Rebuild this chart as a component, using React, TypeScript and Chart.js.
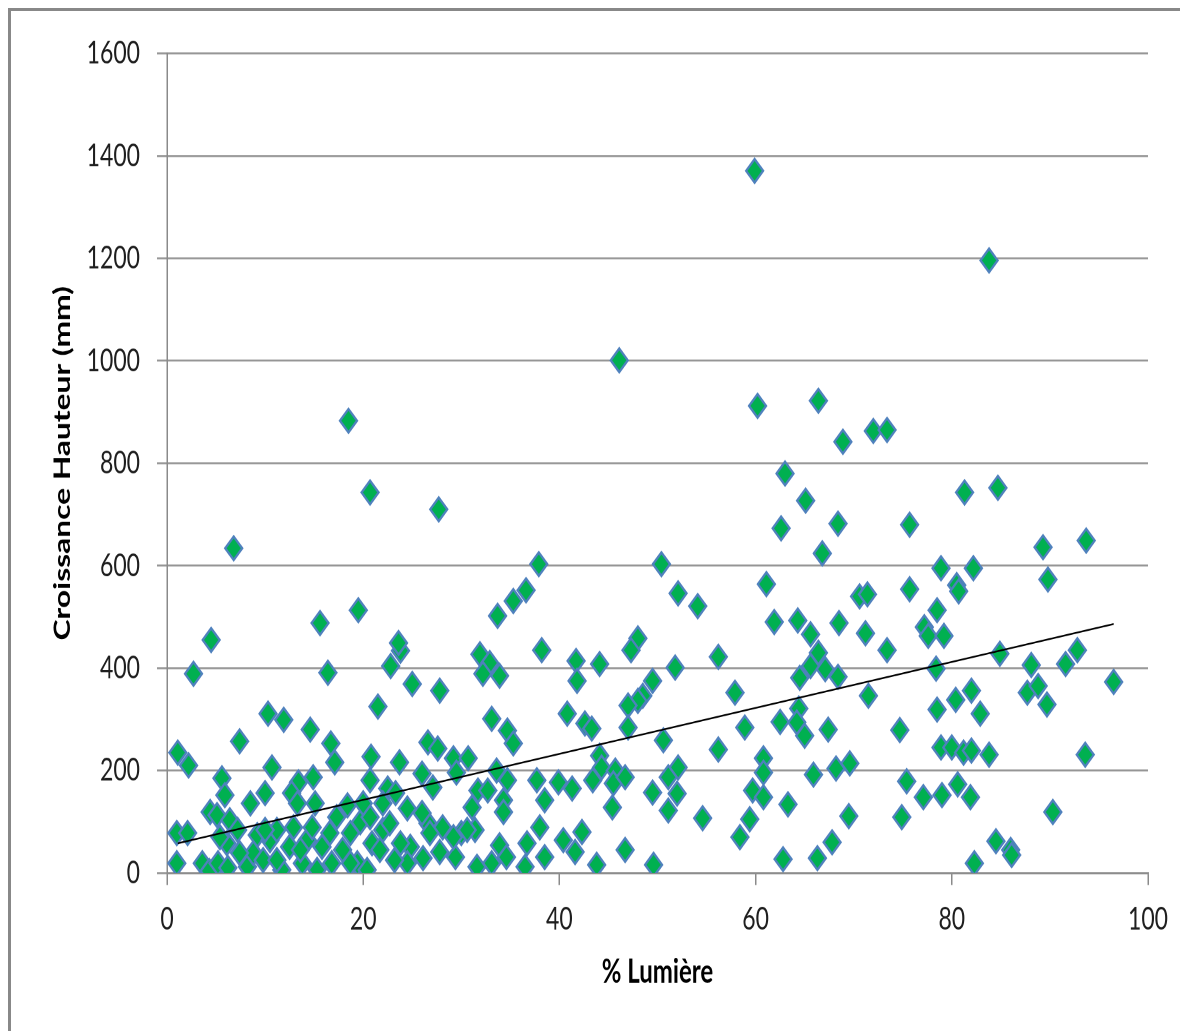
import React, { useEffect, useRef } from 'react';
import { Chart, registerables } from 'chart.js';

Chart.register(...registerables);

// ---- data ----
const lightPct = [
  59.9, 83.8, 46.1, 60.2, 66.4, 18.5, 20.7, 6.8, 15.6, 19.5, 4.5, 27.7, 37.9, 36.6, 35.3, 33.7, 48.0, 50.4, 38.2,
  68.9, 72.0, 73.4, 63.0, 65.1, 62.6, 68.4, 66.8, 75.7, 52.1, 54.1, 61.1, 61.9, 64.3, 68.5, 70.6, 71.4, 75.7, 65.6, 71.2,
  81.3, 84.7, 89.3, 93.7, 89.8, 78.9, 82.2, 80.5, 80.7, 78.5, 77.2, 77.6, 79.2, 84.9, 88.1, 91.6, 92.8, 96.5, 78.4,
  82.0, 80.4, 78.5, 82.9, 87.7, 88.8, 89.7, 74.7, 78.9, 80.0, 81.2, 82.0, 83.8, 93.6, 75.4, 77.1, 79.0, 80.6, 81.9,
  74.9, 90.3, 84.5, 86.0, 86.1, 82.3,
  56.2, 51.8, 49.5, 57.9, 58.9, 56.2, 50.6, 52.1, 51.1, 52.0, 49.5, 51.1, 54.6, 49.6, 62.5, 64.4, 64.2, 65.0, 67.4,
  71.5, 64.5, 65.6, 66.4, 67.1, 68.4, 73.4, 60.8, 60.8, 59.7, 60.8, 59.4, 58.4, 63.3, 65.9, 68.2, 69.6, 69.5, 67.8,
  66.3, 62.8,
  31.9, 32.9, 32.2, 33.9, 41.7, 41.8, 44.1, 47.3, 48.5, 48.0, 47.0, 47.0, 25.0, 27.8, 40.8, 42.6, 43.3, 33.1, 34.7,
  35.3, 26.6, 27.6, 29.2, 30.7, 29.5, 26.0, 27.1, 24.5, 23.7, 31.7, 32.7, 33.6, 34.7, 34.3, 34.3, 31.1, 37.7, 38.5,
  39.9, 41.3, 43.4, 44.1, 44.3, 45.7, 45.5, 46.7, 45.4, 38.0, 26.6, 36.7, 38.5, 36.5, 40.4, 41.6, 42.3, 43.8, 46.7,
  33.9, 34.6, 33.1, 31.6, 31.4, 30.0, 29.4, 28.1, 26.8, 27.8, 26.1, 24.8, 24.5, 29.2, 26.0, 30.6,
  2.7, 16.4, 22.8, 23.8, 23.6, 21.5, 10.3, 11.9, 14.6, 16.7, 17.1, 7.4, 1.1, 2.2, 10.7, 14.9, 20.8, 20.7, 22.5, 23.3,
  5.6, 5.9, 10.0, 8.5, 13.4, 12.7, 13.3, 4.4, 5.1, 6.4, 1.0, 2.1, 1.0, 3.6, 4.3, 5.2, 6.2, 6.1, 7.2, 8.2, 9.2, 8.8,
  9.8, 10.5, 11.2, 11.7, 12.5, 12.9, 13.8, 14.3, 14.8, 15.3, 15.8, 16.6, 16.8, 17.3, 17.9, 18.7, 19.4, 19.7, 20.7,
  20.9, 21.7, 22.0, 22.7, 23.2, 23.8, 11.2, 7.4, 5.4, 13.6, 18.7, 20.4, 15.1, 10.0, 18.4, 20.0, 22.0,
];

const growthMm = [
  1371, 1196, 1001, 912, 922, 883, 743, 634, 488, 513, 455, 710, 603, 552, 531, 502, 458, 603, 435,
  842, 863, 865, 780, 727, 673, 682, 624, 680, 546, 521, 564, 490, 493, 488, 540, 544, 554, 466, 468,
  743, 752, 636, 649, 573, 595, 595, 562, 550, 513, 480, 463, 463, 428, 406, 408, 435, 373, 399,
  356, 338, 319, 311, 352, 365, 329, 279, 245, 245, 235, 239, 231, 231, 179, 148, 152, 173, 148,
  109, 119, 62, 45, 35, 19,
  422, 401, 375, 352, 284, 241, 259, 206, 187, 155, 157, 122, 107, 16, 295, 321, 294, 268, 280,
  346, 381, 404, 430, 398, 383, 435, 224, 196, 161, 148, 105, 70, 134, 192, 204, 214, 111, 60,
  29, 27,
  427, 410, 389, 385, 414, 375, 408, 435, 346, 336, 327, 284, 369, 356, 311, 292, 282, 301, 278,
  253, 255, 243, 224, 224, 196, 194, 167, 126, 216, 161, 161, 200, 181, 142, 119, 128, 181, 142,
  177, 165, 181, 229, 206, 200, 175, 187, 128, 89, 97, 58, 31, 12, 64, 41, 80, 16, 45,
  54, 31, 19, 12, 84, 78, 31, 89, 78, 41, 29, 51, 19, 70, 117, 84,
  389, 391, 404, 434, 449, 325, 311, 299, 280, 253, 216, 257, 235, 210, 206, 187, 227, 181, 165, 156,
  185, 152, 156, 136, 177, 156, 136, 119, 113, 103, 78, 78, 19, 19, 4, 19, 10, 58, 84, 12, 74, 39,
  25, 64, 84, 6, 51, 89, 19, 64, 89, 6, 51, 78, 19, 109, 45, 78, 19, 99, 109,
  58, 45, 84, 97, 25, 58, 25, 39, 70, 45, 19, 6, 136, 84, 132, 136, 136,
];

// linear trend line end points (as drawn in the reference)
const trendX = [1.1, 96.5];
const trendY = [58, 486];

const xTickValues = [0, 20, 40, 60, 80, 100];
const yTickValues = [0, 200, 400, 600, 800, 1000, 1200, 1400, 1600];

const xTitle = '% Lumière';
const yTitle = 'Croissance Hauteur (mm)';

// ---- layout ----
const INNER_W = 1172;
const INNER_H = 1020;
const CANVAS_H = 739;
const STRETCH = INNER_H / CANVAS_H;

export default function App() {
  const ref = useRef<HTMLCanvasElement>(null);

  useEffect(() => {
    if (!ref.current) return;
    const gridColor = '#959595';
    const axisColor = '#8a8a8a';
    const chart = new Chart(ref.current, {
      type: 'scatter',
      data: {
        datasets: [
          {
            type: 'line',
            label: 'Tendance',
            data: trendX.map((x, i) => ({ x, y: trendY[i] })),
            borderColor: '#000000',
            borderWidth: 1.3,
            pointRadius: 0,
            fill: false,
            order: 0,
          } as any,
          {
            label: 'Croissance',
            data: lightPct.map((x, i) => ({ x, y: growthMm[i] })),
            pointStyle: 'rectRot',
            pointRadius: 8.5,
            backgroundColor: '#00B050',
            borderColor: '#4F81BD',
            borderWidth: 2,
            order: 1,
          },
        ],
      },
      options: {
        responsive: false,
        animation: false,
        devicePixelRatio: 2,
        layout: { padding: { top: 28.3, left: 0, right: 35, bottom: 0 } },
        plugins: { legend: { display: false }, tooltip: { enabled: false } },
        scales: {
          x: {
            type: 'linear',
            min: 0,
            max: 100,
            afterBuildTicks: (s: any) => {
              s.ticks = xTickValues.map((v) => ({ value: v }));
            },
            afterFit: (s: any) => {
              s.height = CANVAS_H - 624.5;
            },
            grid: {
              display: true,
              drawOnChartArea: false,
              drawTicks: true,
              tickLength: 8.7,
              color: axisColor,
              lineWidth: 1.5,
            },
            border: { display: true, color: axisColor, width: 1.4 },
            ticks: {
              padding: 11,
              color: '#1e1e1e',
              font: { family: 'Lato', size: 23 },
              maxRotation: 0,
              callback: (v: any) => String(v),
            },
            title: {
              display: true,
              text: xTitle,
              color: '#000000',
              font: { family: 'Lato', size: 24, weight: 'bold' },
              padding: { top: 0, bottom: 28.3 },
            },
          },
          y: {
            type: 'linear',
            min: 0,
            max: 1600,
            afterBuildTicks: (s: any) => {
              s.ticks = yTickValues.map((v) => ({ value: v }));
            },
            afterFit: (s: any) => {
              s.width = 156;
            },
            grid: {
              display: true,
              drawTicks: true,
              tickLength: 10,
              color: gridColor,
              lineWidth: 1.4,
            },
            border: { display: true, color: axisColor, width: 1.5 },
            ticks: {
              padding: 17,
              color: '#1e1e1e',
              font: { family: 'Lato', size: 23 },
              callback: (v: any) => String(v),
            },
            title: {
              display: true,
              text: yTitle,
              color: '#000000',
              font: { family: 'Lato', size: 23, weight: 'bold' },
              padding: { top: 37.7, bottom: 0 },
            },
          },
        },
      },
    });
    return () => chart.destroy();
  }, []);

  return (
    <div
      style={{
        width: INNER_W,
        height: INNER_H,
        borderTop: '3px solid #888888',
        borderLeft: '3px solid #888888',
        borderRight: '3px solid #888888',
        borderBottom: 'none',
        overflow: 'hidden',
        background: '#ffffff',
      }}
    >
      <div
        style={{
          width: INNER_W,
          height: CANVAS_H,
          transform: `scaleY(${STRETCH})`,
          transformOrigin: '0 0',
        }}
      >
        <canvas ref={ref} width={INNER_W} height={CANVAS_H} style={{ display: 'block' }} />
      </div>
    </div>
  );
}
